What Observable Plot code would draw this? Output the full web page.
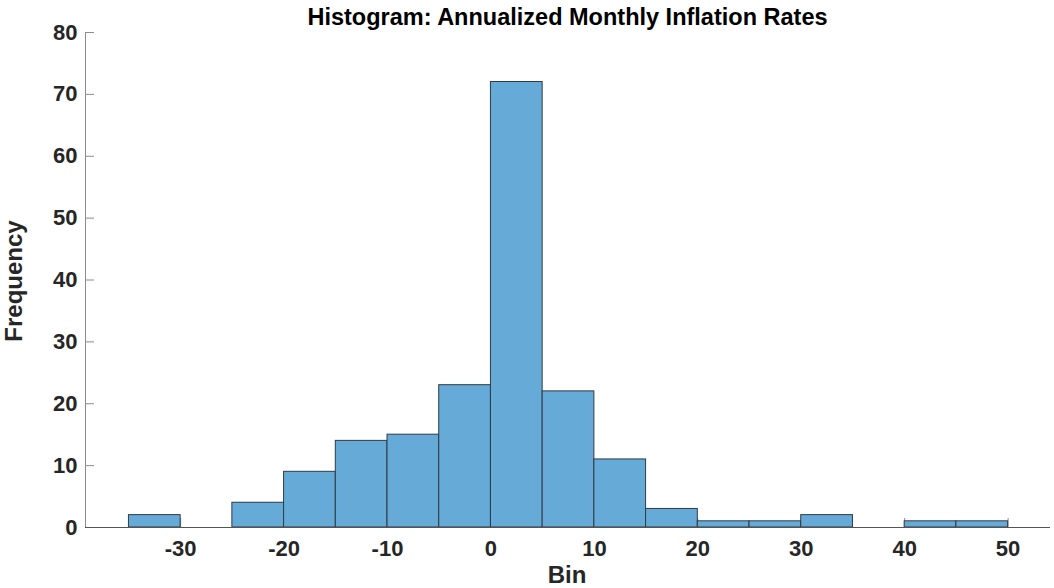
<!DOCTYPE html>
<html>
<head>
<meta charset="utf-8">
<script src="https://cdn.jsdelivr.net/npm/d3@7"></script>
<script src="https://cdn.jsdelivr.net/npm/@observablehq/plot@0.6"></script>
<style>
  body { margin: 0; background: #fff; }
  #wrap { position: relative; width: 1054px; height: 588px; font-family: "Liberation Sans", Arial, sans-serif; }
  #title { position: absolute; left: 85px; width: 965px; top: 3px; text-align: center; font-weight: bold; font-size: 23.5px; line-height: 28px; color: #000; }
  #ylab { position: absolute; left: 14px; top: 281px; transform: translate(-50%, -50%) rotate(-90deg); font-weight: bold; font-size: 24px; line-height: 24px; color: #262626; white-space: nowrap; }
  #xlab { position: absolute; left: 567px; top: 575px; transform: translate(-50%, -50%); font-weight: bold; font-size: 24px; line-height: 22px; color: #262626; }
  svg { position: absolute; left: 0; top: 0; }
</style>
</head>
<body>
<div id="wrap">
  <div id="chart"></div>
  <div id="title">Histogram: Annualized Monthly Inflation Rates</div>
  <div id="ylab">Frequency</div>
  <div id="xlab">Bin</div>
</div>
<script>
const binStarts = [-35, -30, -25, -20, -15, -10, -5, 0, 5, 10, 15, 20, 25, 30, 35, 40, 45];
const binWidth = 5;
const counts = [2, 0, 4, 9, 14, 15, 23, 72, 22, 11, 3, 1, 1, 2, 0, 1, 1];
const xTicks = [-30, -20, -10, 0, 10, 20, 30, 40, 50];
const yTicks = [0, 10, 20, 30, 40, 50, 60, 70, 80];
const xDomain = [-39.2, 54.1];
const yDomain = [0, 80];

const bins = binStarts.map((s, i) => ({x1: s, x2: s + binWidth, y: counts[i]}));

const W = 1054, H = 588, mL = 85, mR = 4, mT = 32, mB = 61;
const pw = W - mL - mR, ph = H - mT - mB;

const chart = Plot.plot({
  width: W, height: H,
  marginLeft: mL, marginRight: mR, marginTop: mT, marginBottom: mB,
  style: {fontFamily: "'Liberation Sans', Arial, sans-serif", background: "white", fontSize: "22px"},
  x: {domain: xDomain},
  y: {domain: yDomain},
  marks: [
    Plot.tickY(yTicks, {y: d => d, stroke: "#8c8c8c", insetRight: pw - 9}),
    Plot.tickX(xTicks, {x: d => d, stroke: "#8c8c8c", insetTop: ph - 9}),
    Plot.rectY(bins, {x1: "x1", x2: "x2", y: "y", fill: "#66aad7", stroke: "#2f3b45", strokeWidth: 1}),
    Plot.ruleX([xDomain[0]], {stroke: "#8c8c8c"}),
    Plot.ruleY([0], {stroke: "#555"}),
    Plot.axisY(yTicks, {tickSize: 0, tickPadding: 8, fontSize: 22, fontWeight: "bold", fill: "#262626", label: null, tickFormat: d => String(d)}),
    Plot.axisX(xTicks, {tickSize: 0, tickPadding: 13, fontSize: 22, fontWeight: "bold", fill: "#262626", label: null, tickFormat: d => String(d)})
  ]
});
document.getElementById("chart").appendChild(chart);
</script>
</body>
</html>
